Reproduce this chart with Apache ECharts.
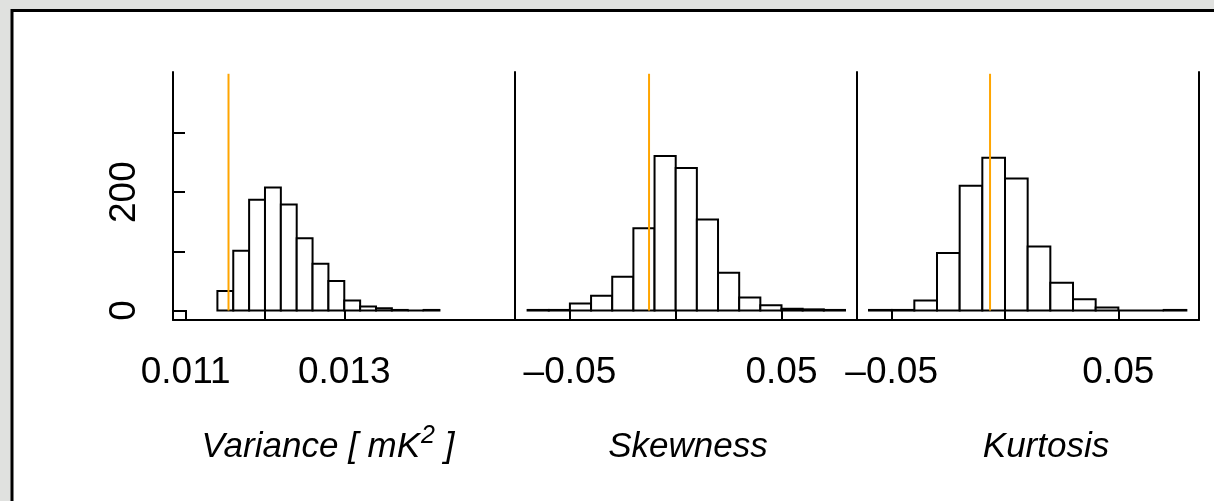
<!DOCTYPE html>
<html><head><meta charset="utf-8">
<script src="https://cdn.jsdelivr.net/npm/echarts@6/dist/echarts.min.js"></script>
<style>html,body{margin:0;padding:0;background:#e0e1df}#c{width:1214px;height:501px}</style>
</head><body><div id="c"></div>
<script>
// ---- data ----
const varEdges = [0.0114,0.0116,0.0118,0.0120,0.0122,0.0124,0.0126,0.0128,0.0130,0.0132,0.0134,0.0136,0.0138,0.0140,0.0142];
const varCounts = [33,101,187,208,179,122,79,50,17,7,4,1,0,1];
const varObserved = 0.01154;

const skewEdges = [-0.07,-0.06,-0.05,-0.04,-0.03,-0.02,-0.01,0,0.01,0.02,0.03,0.04,0.05,0.06,0.07,0.08];
const skewCounts = [1,1,12,25,57,139,261,241,154,64,22,9,3,2,1];
const skewObserved = -0.0126;

const kurtEdges = [-0.06,-0.05,-0.04,-0.03,-0.02,-0.01,0,0.01,0.02,0.03,0.04,0.05,0.06,0.07,0.08];
const kurtCounts = [1,1,17,97,211,258,223,108,47,19,5,0,0,1];
const kurtObserved = -0.0066;

const varTicks = [0.011,0.012,0.013];
const varLabelVals = [0.011,0.013];
const varLabelTexts = ['0.011','0.013'];
const momTicks = [-0.05,0,0.05];
const momLabelVals = [-0.05,0.05];
const momLabelTexts = ['\u20130.05','0.05'];
const yTicks = [0,100,200,300];
const yLabelVals = [0,200];
const yLabelTexts = ['0','200'];
const axisNames = ['{t|Variance [ mK}{sup|2}{t| ]}','{t|Skewness}','{t|Kurtosis}'];

// ---- chart ----
const FF = '"Liberation Sans", Arial, Helvetica, sans-serif';
const black = '#000';
const lineStyle = {color: black, width: 2};
function mkFmt(vals, texts){
  return v => { for (let j=0;j<vals.length;j++) if (Math.abs(vals[j]-v)<1e-9) return texts[j]; return ''; };
}
function bins(edges, counts){ return counts.map((c,i)=>[edges[i],edges[i+1],c]); }

const panelTop = 72, panelH = 248, panelW = 342;
const lefts = [173, 515, 857];
const grids = lefts.map(l => ({left:l, top:panelTop, width:panelW, height:panelH}));

function xAx(i, min, max, ticks, lv, lt, name, pad){
  return {type:'value', gridIndex:i, min:min, max:max, name:name, nameLocation:'middle', nameGap:102,
    nameTextStyle:{fontFamily:FF, fontSize:35, fontStyle:'italic', color:black, padding:pad,
      rich:{
        t:{fontFamily:FF, fontSize:35, fontStyle:'italic', color:black, padding:[8,0,0,0], verticalAlign:'bottom'},
        sup:{fontFamily:FF, fontSize:25, fontStyle:'italic', color:black, verticalAlign:'top', padding:[2,0,0,1]}
      }},
    axisLine:{show:true, onZero:false, lineStyle:lineStyle},
    axisTick:{show:true, inside:true, length:10, customValues:ticks, lineStyle:lineStyle},
    axisLabel:{show:true, customValues:lv, formatter:mkFmt(lv,lt), fontFamily:FF, fontSize:37, color:black, margin:34},
    splitLine:{show:false}};
}
const yMin = -16, yMax = 403;
function yAx(i, main, pos){
  return {type:'value', gridIndex:i, min:yMin, max:yMax, position:pos||'left',
    axisLine:{show:true, onZero:false, lineStyle:lineStyle},
    axisTick:{show:main, inside:true, length:12, customValues:yTicks, lineStyle:lineStyle},
    axisLabel:{show:main, customValues:yLabelVals, formatter:mkFmt(yLabelVals,yLabelTexts), rotate:90,
      fontFamily:FF, fontSize:37, color:black, margin:30},
    splitLine:{show:false}};
}
function hist(i, edges, counts){
  return {type:'custom', xAxisIndex:i, yAxisIndex:i, data:bins(edges,counts), encode:{x:[0,1], y:2}, z:3,
    renderItem:(params, api) => {
      const p0 = api.coord([api.value(0), 0]);
      const p1 = api.coord([api.value(1), api.value(2)]);
      return {type:'rect', shape:{x:p0[0], y:p1[1], width:p1[0]-p0[0], height:p0[1]-p1[1]},
        style:{fill:'#fff', stroke:black, lineWidth:2}};
    }};
}
function obs(i, v){
  return {type:'line', xAxisIndex:i, yAxisIndex:i, data:[[v,0],[v,400]], symbol:'none', z:5,
    lineStyle:{color:'#FFA500', width:2}, silent:true, animation:false};
}

const chart = echarts.init(document.getElementById('c'), null, {renderer:'canvas'});
chart.setOption({
  animation:false,
  backgroundColor:'#e0e1df',
  graphic:[{type:'rect', z:-100, shape:{x:12, y:10.5, width:1240, height:520},
    style:{fill:'#fff', stroke:'#000', lineWidth:3}}],
  grid:grids,
  xAxis:[
    xAx(0, 0.01084, 0.015153, varTicks, varLabelVals, varLabelTexts, axisNames[0], [0,32,0,0]),
    xAx(1, -0.07595, 0.08568, momTicks, momLabelVals, momLabelTexts, axisNames[1], [0,0,0,4]),
    xAx(2, -0.06529, 0.08558, momTicks, momLabelVals, momLabelTexts, axisNames[2], [0,0,0,36])
  ],
  yAxis:[yAx(0,true), yAx(1,false), yAx(2,false), yAx(2,false,'right')],
  series:[
    hist(0, varEdges, varCounts), hist(1, skewEdges, skewCounts), hist(2, kurtEdges, kurtCounts),
    obs(0, varObserved), obs(1, skewObserved), obs(2, kurtObserved)
  ]
});
</script></body></html>
